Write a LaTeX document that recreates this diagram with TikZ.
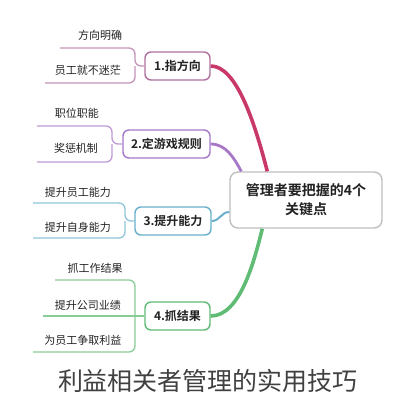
\documentclass[tikz,border=0pt]{standalone}
\usepackage{fontspec}
\setmainfont{Noto Sans CJK SC}[BoldFont=* Bold]
\usetikzlibrary{calc}
\definecolor{cA}{HTML}{B070A0}
\definecolor{cAc}{HTML}{C83868}
\definecolor{cB}{HTML}{A878C8}
\definecolor{cC}{HTML}{68B0CC}
\definecolor{cD}{HTML}{60BC74}
\definecolor{txt}{HTML}{222222}
\tikzset{
  branch/.style={draw=#1, line width=1.4pt, rounded corners=6pt, fill=white, minimum height=28pt, inner sep=2pt, font=\fontsize{12}{14}\selectfont\bfseries, text=txt},
  leaf/.style={font=\fontsize{11}{12}\selectfont, text=txt, inner sep=1pt},
  leafline/.style={draw=#1!75, line width=1.3pt, rounded corners=6pt}
}
\begin{document}
\begin{tikzpicture}[x=1pt,y=-1pt]
\useasboundingbox (0,0) rectangle (416,400);
% central
\node[draw=black!25, line width=1.4pt, rounded corners=8pt, fill=white, minimum width=152pt, minimum height=56pt, align=center, font=\fontsize{14}{19}\selectfont\bfseries, text=txt] (c) at (306,200) {管理者要把握的4个\\关键点};
% branch boxes
\node[branch=cA, minimum width=65pt] (b1) at (177.5,66) {1.指方向};
\node[branch=cB, minimum width=87pt] (b2) at (166.5,144) {2.定游戏规则};
\node[branch=cC, minimum width=76pt] (b3) at (173,221) {3.提升能力};
\node[branch=cD, minimum width=65pt] (b4) at (177.5,316) {4.抓结果};
% connectors
\draw[draw=cAc, line width=3.6pt] (b1.east) .. controls (236,66) and (254,120) .. ($(c.north west)+(38,0)$);
\draw[draw=cB, line width=2.8pt] (b2.east) .. controls (226,144) and (234,158) .. ($(c.north west)+(12,0)$);
\draw[draw=cC, line width=2pt] (b3.east) .. controls (220,221) and (221,212) .. ($(c.west)+(0,12)$);
\draw[draw=cD, line width=3.6pt] (b4.east) .. controls (240,316) and (254,262) .. ($(c.south west)+(33,0)$);
% branch 1 leaves
\coordinate (l1a) at (60,48);
\coordinate (l1b) at (45,83);
\draw[leafline=cA] (b1.west) -- (135,66) |- (l1a);
\draw[leafline=cA] (135,66) |- (l1b);
\node[leaf] (t1a) at (100,35) {方向明确};
\node[leaf] (t1b) at (88,70) {员工就不迷茫};
% branch 2 leaves
\coordinate (l2a) at (37,126);
\coordinate (l2b) at (37,162);
\draw[leafline=cB] (b2.west) -- (112,144) |- (l2a);
\draw[leafline=cB] (112,144) |- (l2b);
\node[leaf] (t2a) at (77,113) {职位职能};
\node[leaf] (t2b) at (76,148) {奖惩机制};
% branch 3 leaves
\coordinate (l3a) at (33,203);
\coordinate (l3b) at (33,238);
\draw[leafline=cC] (b3.west) -- (125,221) |- (l3a);
\draw[leafline=cC] (125,221) |- (l3b);
\node[leaf] (t3a) at (78,192) {提升员工能力};
\node[leaf] (t3b) at (78,227) {提升自身能力};
% branch 4 leaves
\coordinate (l4a) at (55,280);
\coordinate (l4b) at (43,316);
\coordinate (l4c) at (33,352);
\draw[leafline=cD] (b4.west) -- (l4b);
\draw[leafline=cD] (135,316) |- (l4a);
\draw[leafline=cD] (135,316) |- (l4c);
\node[leaf] (t4a) at (95,268) {抓工作结果};
\node[leaf] (t4b) at (88,305) {提升公司业绩};
\node[leaf] (t4c) at (83,340) {为员工争取利益};
% title
\node[font=\fontsize{25}{28}\selectfont, text=black!75] (title) at (208,381) {利益相关者管理的实用技巧};
\end{tikzpicture}
\end{document}
